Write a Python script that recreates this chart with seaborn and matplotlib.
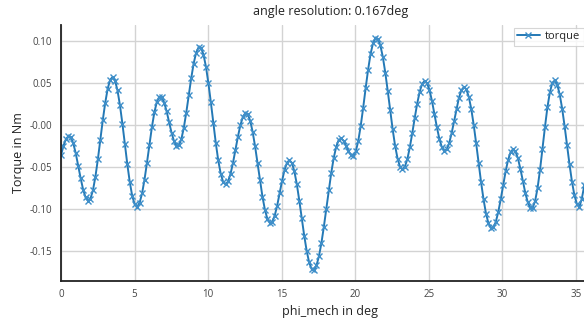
import numpy as np
import pandas as pd
import matplotlib
matplotlib.use("Agg")
import matplotlib.pyplot as plt
import seaborn as sns
from matplotlib.ticker import FixedLocator, FixedFormatter

# ---- data ----
resolution_deg = 0.167  # angle resolution given in the title
torque = [
    -0.0360, -0.0250, -0.0170, -0.0135, -0.0150, -0.0220, -0.0338, -0.0485, -0.0636, -0.0770,
    -0.0864, -0.0905, -0.0878, -0.0780, -0.0619, -0.0412, -0.0178, 0.0054, 0.0263, 0.0431,
    0.0537, 0.0570, 0.0527, 0.0411, 0.0233, 0.0013, -0.0229, -0.0470, -0.0682, -0.0848,
    -0.0948, -0.0976, -0.0929, -0.0816, -0.0651, -0.0450, -0.0234, -0.0027, 0.0148, 0.0273,
    0.0335, 0.0329, 0.0266, 0.0161, 0.0033, -0.0094, -0.0194, -0.0248, -0.0243, -0.0169,
    -0.0033, 0.0147, 0.0352, 0.0555, 0.0731, 0.0860, 0.0924, 0.0917, 0.0838, 0.0694,
    0.0497, 0.0269, 0.0025, -0.0213, -0.0421, -0.0580, -0.0680, -0.0710, -0.0674, -0.0585,
    -0.0454, -0.0300, -0.0143, -0.0006, 0.0093, 0.0140, 0.0127, 0.0051, -0.0081, -0.0255,
    -0.0457, -0.0662, -0.0854, -0.1010, -0.1119, -0.1168, -0.1153, -0.1081, -0.0961, -0.0815,
    -0.0665, -0.0536, -0.0450, -0.0420, -0.0454, -0.0554, -0.0708, -0.0901, -0.1111, -0.1319,
    -0.1500, -0.1637, -0.1716, -0.1730, -0.1675, -0.1565, -0.1409, -0.1214, -0.0999, -0.0780,
    -0.0573, -0.0397, -0.0264, -0.0182, -0.0162, -0.0189, -0.0246, -0.0310, -0.0357, -0.0370,
    -0.0316, -0.0192, -0.0013, 0.0202, 0.0435, 0.0655, 0.0843, 0.0972, 0.1036, 0.1025,
    0.0947, 0.0811, 0.0624, 0.0406, 0.0173, -0.0051, -0.0249, -0.0401, -0.0499, -0.0530,
    -0.0496, -0.0406, -0.0267, -0.0097, 0.0084, 0.0254, 0.0394, 0.0488, 0.0524, 0.0498,
    0.0415, 0.0287, 0.0133, -0.0026, -0.0164, -0.0263, -0.0308, -0.0293, -0.0220, -0.0101,
    0.0043, 0.0192, 0.0325, 0.0414, 0.0450, 0.0424, 0.0334, 0.0191, 0.0000, -0.0220,
    -0.0454, -0.0683, -0.0887, -0.1056, -0.1173, -0.1229, -0.1222, -0.1155, -0.1038, -0.0886,
    -0.0716, -0.0553, -0.0417, -0.0326, -0.0290, -0.0316, -0.0398, -0.0524, -0.0668, -0.0809,
    -0.0922, -0.0985, -0.0988, -0.0907, -0.0752, -0.0535, -0.0283, -0.0027, 0.0208, 0.0387,
    0.0501, 0.0530, 0.0480, 0.0365, 0.0195, -0.0014, -0.0243, -0.0471, -0.0677, -0.0838,
    -0.0944, -0.0980, -0.0880, -0.0720, -0.0580, -0.0460, -0.0360,
]
phi_mech = [round(i * resolution_deg, 3) for i in range(len(torque))]

x_ticks = [0, 5, 10, 15, 20, 25, 30, 35]
x_tick_labels = ["0", "5", "10", "15", "20", "25", "30", "35"]
y_ticks = [-0.15, -0.10, -0.05, 0.0, 0.05, 0.10]
y_tick_labels = ["-0.15", "-0.10", "-0.05", "-0.00", "0.05", "0.10"]

df = pd.DataFrame({"phi_mech": phi_mech, "torque": torque})

# ---- figure ----
sns.set_style("white")
plt.rcParams["font.family"] = ["Open Sans", "DejaVu Sans"]

fig = plt.figure(figsize=(5.84, 3.20), dpi=100)
ax = fig.add_axes([61 / 584, 39 / 320, (600 - 61) / 584, 256 / 320])

sns.lineplot(data=df, x="phi_mech", y="torque", ax=ax, color="#2479b6",
             marker="x", markersize=4.5, markeredgewidth=1.0, linewidth=1.4,
             label="torque", markeredgecolor="#3f8fc9")

ax.set_xlim(0, (600 - 61) / 14.71)
ax.set_ylim(-0.186, 0.119)
ax.xaxis.set_major_locator(FixedLocator(x_ticks))
ax.xaxis.set_major_formatter(FixedFormatter(x_tick_labels))
ax.yaxis.set_major_locator(FixedLocator(y_ticks))
ax.yaxis.set_major_formatter(FixedFormatter(y_tick_labels))

ax.grid(True, color="#d3d3d3", linewidth=1.0)
ax.set_axisbelow(True)
for s in ["top", "right"]:
    ax.spines[s].set_visible(False)
for s in ["left", "bottom"]:
    ax.spines[s].set_color("#222222")
    ax.spines[s].set_linewidth(1.3)

ax.tick_params(axis="both", labelsize=7, colors="#222222", labelcolor="#444444",
               length=3.5, width=1.2, direction="out", pad=3)
ax.tick_params(axis="x", length=2.5)

ax.set_xlabel("phi_mech in deg", fontsize=9, color="#222222", labelpad=4)
ax.set_ylabel("Torque in Nm", fontsize=9, color="#222222", labelpad=3)
ax.set_title("angle resolution: 0.167deg", fontsize=9, color="#222222", pad=7)

leg = ax.legend(loc="upper left", bbox_to_anchor=(514 / 584, 1 - 28 / 320),
                bbox_transform=fig.transFigure, fontsize=8, frameon=True,
                fancybox=False, borderpad=0.3, handlelength=2.0,
                handletextpad=0.5, borderaxespad=0)
leg.get_frame().set_edgecolor("#cccccc")
leg.get_frame().set_linewidth(0.8)

fig.savefig("out.png", dpi=100)
